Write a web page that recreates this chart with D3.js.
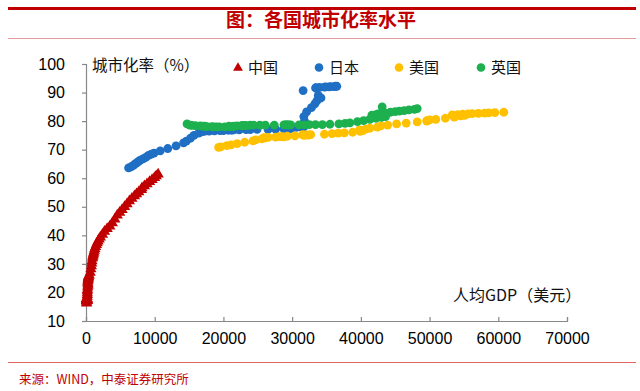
<!DOCTYPE html>
<html><head><meta charset="utf-8">
<script src="https://cdn.jsdelivr.net/npm/d3@7"></script>
<style>html,body{margin:0;padding:0;background:#fff;}svg{display:block;}</style>
</head><body>
<svg id="c" width="640" height="391"></svg>
<script>
// ---- data ----
const xTicks = [0, 10000, 20000, 30000, 40000, 50000, 60000, 70000];
const yTicks = [10, 20, 30, 40, 50, 60, 70, 80, 90, 100];
const seriesNames = ["中国", "日本", "美国", "英国"];
const seriesColors = ["#C00000", "#1F6FC4", "#FFC000", "#1DB04F"];

const chinaGDP = [90,76,70,73,85,98,104,97,91,100,113,119,132,157,160,178,165,185,156,184,195,197,203,225,251,294,282,252,284,311,318,333,366,377,473,610,709,782,829,873,959,1000,1053,1100,1149,1220,1289,1400,1509,1630,1753,1920,2099,2400,2694,3080,3468,3832,4190,4550,4900,5250,5618,5970,6317,6680,7051,7360,7679,8067,8148,8500,8879,9250,9620,9977,10217,10500];
const chinaUrban = [16.2,16.6,17.0,17.2,17.5,17.8,17.9,17.7,17.6,17.5,17.4,17.3,17.2,17.2,17.2,17.3,17.4,17.6,17.9,18.6,19.2,19.8,20.5,21.0,21.8,22.4,23.0,23.5,24.0,24.4,24.8,25.1,25.4,25.7,26.0,27.0,28.2,29.3,30.2,31.0,32.0,32.6,33.1,33.6,34.1,34.7,35.3,36.0,36.7,37.3,37.9,38.6,39.3,40.3,41.3,42.3,43.2,44.3,45.6,47.0,48.0,49.0,50.0,51.0,52.0,52.9,53.8,54.5,55.2,56.0,56.6,57.3,58.0,58.8,59.5,60.2,60.8,61.4];

const japanGDP = [6200,6550,6900,7150,7400,7650,7900,8300,8700,9100,9500,9900,10800,11900,13100,14200,14600,15200,15700,16400,16800,17200,17900,18700,19500,20000,20700,21200,21500,22300,23300,23900,24900,26500,27600,28800,29700,29800,29800,30000,30600,31400,31700,31200,31000,31700,31800,31700,32100,32800,33300,33600,34200,33800,31600,33400,33500,34000,34700,34900,35400,35600,36100,36300,36500];
const japanUrban = [63.6,64.0,64.5,65.0,65.4,65.9,66.3,66.8,67.3,68.0,68.4,68.8,69.6,70.4,71.3,72.4,73.0,74.0,75.0,75.8,76.2,76.4,76.5,76.6,76.7,76.7,76.8,76.8,76.9,76.9,77.0,77.0,77.1,77.1,77.2,77.3,77.4,77.5,77.6,77.7,77.8,77.9,78.0,78.1,78.3,78.6,80.0,81.6,83.2,84.7,86.0,87.1,88.1,89.0,90.7,91.6,91.7,91.8,91.9,92.0,92.0,92.1,92.1,92.2,92.2];

const usGDP = [19300,19600,20500,21100,22000,23100,24300,24700,25600,26100,25900,26500,27600,28800,28500,28100,29300,30400,31700,32300,31900,32400,31500,32700,34700,35800,36700,37600,38800,39900,40300,39800,40700,41300,42400,42900,43900,45200,46600,48200,49600,49600,50000,50900,52300,53600,54500,55100,54700,53300,54100,54800,55600,56200,57100,58000,58600,59500,60800];
const usUrban = [70.8,71.0,71.4,71.7,72.1,72.6,73.1,73.4,73.8,74.1,74.2,74.3,74.4,74.5,74.6,74.6,74.7,74.8,75.0,75.1,75.2,75.2,75.3,75.3,75.4,75.6,75.8,75.9,76.1,76.4,76.7,76.9,77.2,77.5,77.9,78.3,78.6,79.0,79.3,79.7,80.0,80.2,80.4,80.6,81.0,81.4,81.8,82.0,82.1,82.2,82.3,82.4,82.5,82.6,82.7,82.8,82.9,83.0,83.1];

const ukGDP = [14700,15100,15400,15900,16600,17000,17300,17600,18300,18600,19000,19400,20200,21400,20900,20800,21500,22000,22800,23400,22900,22700,23100,23900,24400,25300,26100,27400,28800,29400,29500,29100,29100,29800,31000,31800,32500,33400,34400,35500,36800,37700,38400,39500,40400,41300,42200,43000,43600,42900,41600,42200,42500,42900,43100,43500,44300,45000,45600,46300,47000,47800,48200];
const ukUrban = [79.0,78.6,78.5,78.4,78.3,78.2,78.2,78.1,78.1,78.0,78.0,78.0,78.0,78.1,78.1,78.2,78.2,78.3,78.3,78.4,78.4,78.5,78.5,78.6,78.6,78.6,78.6,78.6,78.7,78.7,78.7,78.7,78.7,78.7,78.7,78.7,78.8,78.8,78.8,78.9,79.0,79.2,79.4,79.8,80.2,80.6,81.0,81.3,81.6,81.9,82.1,82.3,82.5,82.7,85.0,82.9,83.1,83.3,83.5,83.7,83.9,84.1,84.4];

// ---- chart ----
const svg = d3.select("#c");
const x = d3.scaleLinear().domain([0, 70000]).range([86, 567]);
const y = d3.scaleLinear().domain([10, 100]).range([321, 64]);
const cjk = "'Noto Sans CJK SC', 'Noto Sans', sans-serif";
const latin = "'Liberation Sans', Arial, sans-serif";

// header / footer rules
svg.append("rect").attr("x", 8).attr("y", 7).attr("width", 628).attr("height", 3).attr("fill", "#C00000");
svg.append("text").attr("x", 321).attr("y", 27).attr("text-anchor", "middle")
  .attr("font-family", cjk).attr("font-weight", "bold").attr("font-size", 19).attr("fill", "#C00000")
  .text("图：各国城市化率水平");
svg.append("line").attr("x1", 8).attr("x2", 636).attr("y1", 38.5).attr("y2", 38.5).attr("stroke", "#E49A9A").attr("stroke-width", 1);
svg.append("line").attr("x1", 8).attr("x2", 636).attr("y1", 362.5).attr("y2", 362.5).attr("stroke", "#E06666").attr("stroke-width", 1);
svg.append("text").attr("x", 19).attr("y", 384).attr("font-family", cjk).attr("font-size", 12.5).attr("fill", "#C00000")
  .text("来源：WIND，中泰证券研究所");

// axes
const xAxis = d3.axisBottom(x).tickValues(xTicks).tickFormat(d3.format("d")).tickSize(-4).tickPadding(12);
const yAxis = d3.axisLeft(y).tickValues(yTicks).tickFormat(d3.format("d")).tickSize(4).tickPadding(17);
const gx = svg.append("g").attr("transform", `translate(0,${y(10)})`).call(xAxis);
const gy = svg.append("g").attr("transform", `translate(${x(0)},0)`).call(yAxis);
[gx, gy].forEach(g => {
  g.selectAll("path,line").attr("stroke", "#888").attr("stroke-width", 1.2);
  g.selectAll("text").attr("font-family", latin).attr("font-size", 16).attr("fill", "#000");
});

// axis titles
svg.append("text").attr("x", 92).attr("y", 71).attr("font-family", cjk).attr("font-size", 15.5).attr("fill", "#111")
  .text("城市化率（%）");
svg.append("text").attr("x", 453).attr("y", 301).attr("font-family", cjk).attr("font-size", 16).attr("fill", "#111")
  .text("人均GDP（美元）");

// series
function pts(g, u) { return g.map((v, i) => ({gdp: v, urb: u[i]})); }
const tri = d3.symbol().type(d3.symbolTriangle).size(55);
svg.append("g").selectAll("path").data(pts(chinaGDP, chinaUrban)).join("path")
  .attr("d", tri).attr("transform", d => `translate(${x(d.gdp)},${y(d.urb)})`).attr("fill", seriesColors[0]);
[[japanGDP, japanUrban, 1], [usGDP, usUrban, 2], [ukGDP, ukUrban, 3]].forEach(([g, u, k]) => {
  svg.append("g").selectAll("circle").data(pts(g, u)).join("circle")
    .attr("cx", d => x(d.gdp)).attr("cy", d => y(d.urb)).attr("r", 4.4).attr("fill", seriesColors[k]);
});

// legend
const legendX = [238, 319, 399, 481];
const leg = svg.append("g");
seriesNames.forEach((n, i) => {
  if (i === 0) {
    leg.append("path").attr("d", d3.symbol().type(d3.symbolTriangle).size(42)).attr("transform", `translate(${legendX[i]},68)`).attr("fill", seriesColors[i]);
  } else {
    leg.append("circle").attr("cx", legendX[i]).attr("cy", 67.5).attr("r", 4.3).attr("fill", seriesColors[i]);
  }
  leg.append("text").attr("x", legendX[i] + 10).attr("y", 73).attr("font-family", cjk).attr("font-size", 15).attr("fill", "#111").text(n);
});
</script>
</body></html>
